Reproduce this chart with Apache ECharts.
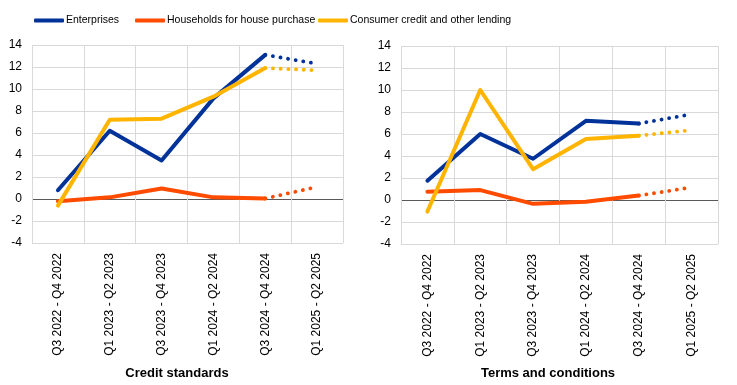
<!DOCTYPE html>
<html><head><meta charset="utf-8">
<script src="https://cdn.jsdelivr.net/npm/echarts@6/dist/echarts.min.js"></script>
<style>html,body{margin:0;padding:0;background:#fff}#c{width:737px;height:385px}</style>
</head><body><div id="c"></div>
<script>
const categories = ['Q3 2022 - Q4 2022','Q1 2023 - Q2 2023','Q3 2023 - Q4 2023','Q1 2024 - Q2 2024','Q3 2024 - Q4 2024','Q1 2025 - Q2 2025'];
const seriesNames = ['Enterprises','Households for house purchase','Consumer credit and other lending'];
const panelTitles = ['Credit standards','Terms and conditions'];
const yTicks = [-4,-2,0,2,4,6,8,10,12,14];

// Credit standards: realised (5 periods) and expected (last period)
const csEnterprises = [0.8, 6.2, 3.5, 9.15, 13.1];
const csEnterprisesExp = [null, null, null, null, 13.1, 12.3];
const csHouseholds = [-0.2, 0.15, 0.95, 0.15, 0.05];
const csHouseholdsExp = [null, null, null, null, 0.05, 1.1];
const csConsumer = [-0.6, 7.2, 7.3, 9.3, 11.9];
const csConsumerExp = [null, null, null, null, 11.9, 11.7];

// Terms and conditions
const tcEnterprises = [1.75, 6.0, 3.75, 7.2, 6.95];
const tcEnterprisesExp = [null, null, null, null, 6.95, 7.8];
const tcHouseholds = [0.75, 0.9, -0.35, -0.15, 0.4];
const tcHouseholdsExp = [null, null, null, null, 0.4, 1.15];
const tcConsumer = [-1.05, 10.0, 2.8, 5.55, 5.85];
const tcConsumerExp = [null, null, null, null, 5.85, 6.35];

const colors = ['#003299', '#FF4B00', '#FFB400'];
const regular = '"Liberation Sans", Arial, sans-serif';

const chart = echarts.init(document.getElementById('c'), null, {renderer: 'canvas'});

function splitColors() {
  return yTicks.map(v => v === 0 ? '#595959' : '#d9d9d9');
}
function xAxis(i) {
  return {
    type: 'category', gridIndex: i, data: categories, boundaryGap: true,
    axisLine: {show: false}, axisTick: {show: false},
    axisLabel: {rotate: 90, interval: 0, fontSize: 12, fontFamily: regular, color: '#000', margin: 10},
    splitLine: {show: true, interval: 0, lineStyle: {color: '#d9d9d9', width: 1}}
  };
}
function yAxis(i) {
  return {
    type: 'value', gridIndex: i, min: -4, max: 14, interval: 2,
    axisLine: {show: false}, axisTick: {show: false},
    axisLabel: {fontSize: 12, fontFamily: regular, color: '#000', margin: 10},
    splitLine: {show: true, lineStyle: {color: splitColors(), width: 1}}
  };
}
function solid(name, data, idx, gi) {
  return {type: 'line', name: name, data: data, xAxisIndex: gi, yAxisIndex: gi,
    showSymbol: false, symbol: 'none', color: colors[idx],
    lineStyle: {width: 4, color: colors[idx], cap: 'round', join: 'round'}, z: 3 + idx};
}
function dotted(name, data, idx, gi) {
  return {type: 'line', name: name, data: data, xAxisIndex: gi, yAxisIndex: gi,
    showSymbol: false, symbol: 'none', color: colors[idx], connectNulls: false,
    lineStyle: {width: 3.8, color: colors[idx], type: [0.1, 7.6], cap: 'round'}, z: 3 + idx};
}

const legendLeft = [29, 130, 313];
const option = {
  animation: false,
  backgroundColor: '#fff',
  textStyle: {fontFamily: regular},
  legend: seriesNames.map((n, i) => ({
    data: [{name: n, icon: 'roundRect', itemStyle: {color: colors[i]}}],
    left: legendLeft[i], top: 10, itemWidth: 30, itemHeight: 4, itemGap: 0,
    textStyle: {fontSize: 10.5, fontFamily: regular, color: '#000', padding: [0, 0, 0, -3]},
    selectedMode: false
  })),
  grid: [
    {left: 32, right: 394, top: 45, bottom: 142},
    {left: 401, right: 19, top: 46, bottom: 141}
  ],
  xAxis: [xAxis(0), xAxis(1)],
  yAxis: [yAxis(0), yAxis(1)],
  series: [
    solid(seriesNames[0], csEnterprises, 0, 0),
    solid(seriesNames[1], csHouseholds, 1, 0),
    solid(seriesNames[2], csConsumer, 2, 0),
    dotted(seriesNames[0], csEnterprisesExp, 0, 0),
    dotted(seriesNames[1], csHouseholdsExp, 1, 0),
    dotted(seriesNames[2], csConsumerExp, 2, 0),
    solid(seriesNames[0], tcEnterprises, 0, 1),
    solid(seriesNames[1], tcHouseholds, 1, 1),
    solid(seriesNames[2], tcConsumer, 2, 1),
    dotted(seriesNames[0], tcEnterprisesExp, 0, 1),
    dotted(seriesNames[1], tcHouseholdsExp, 1, 1),
    dotted(seriesNames[2], tcConsumerExp, 2, 1)
  ],
  graphic: [
    {type: 'text', x: 177, y: 373, style: {text: panelTitles[0], font: 'bold 13px ' + regular, fill: '#000', textAlign: 'center', textVerticalAlign: 'middle'}},
    {type: 'text', x: 548, y: 373, style: {text: panelTitles[1], font: 'bold 13px ' + regular, fill: '#000', textAlign: 'center', textVerticalAlign: 'middle'}}
  ]
};
chart.setOption(option);
</script>
</body></html>
